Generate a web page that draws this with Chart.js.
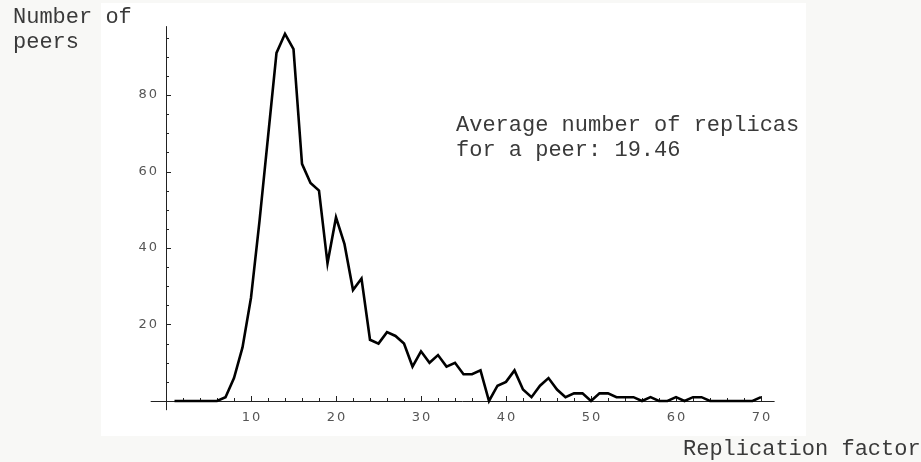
<!DOCTYPE html>
<html>
<head>
<meta charset="utf-8">
<script src="https://cdn.jsdelivr.net/npm/chart.js@4/dist/chart.umd.min.js"></script>
<style>
  html, body { margin: 0; padding: 0; background: #f8f8f6; }
  #c { display: block; }
</style>
</head>
<body>
<canvas id="c" width="921" height="462"></canvas>
<script>
// ---- data ----
const replicationFactor = [1,2,3,4,5,6,7,8,9,10,11,12,13,14,15,16,17,18,19,20,21,22,23,24,25,26,27,28,29,30,31,32,33,34,35,36,37,38,39,40,41,42,43,44,45,46,47,48,49,50,51,52,53,54,55,56,57,58,59,60,61,62,63,64,65,66,67,68,69,70];
const numberOfPeers =     [0,0,0,0,0,0,1,6,14,27,47,69,91,96,92,62,57,55,36,48,41,29,32,16,15,18,17,15,9,13,10,12,9,10,7,7,8,0,4,5,8,3,1,4,6,3,1,2,2,0,2,2,1,1,1,0,1,0,0,1,0,1,1,0,0,0,0,0,0,1];
const xTickLabels = [10,20,30,40,50,60,70];
const xMinorTicks = [2,4,6,8,12,14,16,18,22,24,26,28,32,34,36,38,42,44,46,48,52,54,56,58,62,64,66,68];
const yTickLabels = [20,40,60,80];
const yMinorTicks = [5,10,15,25,30,35,45,50,55,65,70,75,85,90,95];
const yAxisTitle = ["Number of", "peers"];
const xAxisTitle = "Replication factor";
const annotationLines = ["Average number of replicas", "for a peer: 19.46"];

const points = replicationFactor.map((x, i) => ({ x: x, y: numberOfPeers[i] }));

const mathematicaAxes = {
  id: 'mathematicaAxes',
  beforeDraw(chart) {
    const ctx = chart.ctx;
    ctx.save();
    ctx.fillStyle = '#f8f8f6';
    ctx.fillRect(0, 0, chart.width, chart.height);
    ctx.fillStyle = '#ffffff';
    ctx.fillRect(101, 3, 705, 433);
    ctx.restore();
  },
  beforeDatasetsDraw(chart) {
    const ctx = chart.ctx;
    const xs = chart.scales.x, ys = chart.scales.y;
    const x0 = xs.getPixelForValue(0), y0 = ys.getPixelForValue(0);
    ctx.save();
    ctx.strokeStyle = '#222';
    ctx.lineWidth = 1;
    // axis lines
    ctx.beginPath();
    ctx.moveTo(xs.left, Math.round(y0) + 0.5);
    ctx.lineTo(xs.right, Math.round(y0) + 0.5);
    ctx.moveTo(Math.round(x0) + 0.5, ys.top);
    ctx.lineTo(Math.round(x0) + 0.5, ys.bottom);
    ctx.stroke();
    // x ticks
    ctx.beginPath();
    xTickLabels.forEach(v => {
      const px = Math.round(xs.getPixelForValue(v)) + 0.5;
      ctx.moveTo(px, y0); ctx.lineTo(px, y0 - 5);
    });
    xMinorTicks.forEach(v => {
      const px = Math.round(xs.getPixelForValue(v)) + 0.5;
      ctx.moveTo(px, y0); ctx.lineTo(px, y0 - 3);
    });
    yTickLabels.forEach(v => {
      const py = Math.round(ys.getPixelForValue(v)) + 0.5;
      ctx.moveTo(x0, py); ctx.lineTo(x0 + 5, py);
    });
    yMinorTicks.forEach(v => {
      const py = Math.round(ys.getPixelForValue(v)) + 0.5;
      ctx.moveTo(x0, py); ctx.lineTo(x0 + 3, py);
    });
    ctx.stroke();
    // tick labels
    ctx.fillStyle = '#555';
    ctx.font = '13px "DejaVu Sans", sans-serif';
    try { ctx.letterSpacing = '2px'; } catch (e) {}
    ctx.textBaseline = 'top';
    ctx.textAlign = 'center';
    xTickLabels.forEach(v => {
      const px = xs.getPixelForValue(v);
      ctx.fillText(String(v), px + 1, y0 + 10);
    });
    ctx.textBaseline = 'middle';
    ctx.textAlign = 'right';
    yTickLabels.forEach(v => {
      const py = ys.getPixelForValue(v);
      ctx.fillText(String(v), x0 - 7, py);
    });
    ctx.restore();
  },
  afterDraw(chart) {
    const ctx = chart.ctx;
    ctx.save();
    ctx.fillStyle = '#3a3a3a';
    ctx.font = '22px "Liberation Mono", "Courier New", monospace';
    ctx.textBaseline = 'alphabetic';
    ctx.textAlign = 'left';
    ctx.fillText(yAxisTitle[0], 13, 23);
    ctx.fillText(yAxisTitle[1], 13, 48);
    ctx.fillText(xAxisTitle, 683, 455);
    ctx.fillText(annotationLines[0], 456, 131);
    ctx.fillText(annotationLines[1], 456, 156);
    ctx.restore();
  }
};

new Chart(document.getElementById('c'), {
  type: 'line',
  data: {
    datasets: [{
      data: points,
      borderColor: '#000',
      borderWidth: 2.6,
      pointRadius: 0,
      tension: 0,
      fill: false
    }]
  },
  options: {
    responsive: false,
    animation: false,
    devicePixelRatio: 1,
    layout: { padding: { left: 150.7, right: 146.4, top: 26.15, bottom: 51.82 } },
    plugins: { legend: { display: false }, tooltip: { enabled: false } },
    scales: {
      x: { type: 'linear', min: -1.8, max: 71.6, display: false },
      y: { type: 'linear', min: -2.4, max: 98.0, display: false }
    }
  },
  plugins: [mathematicaAxes]
});
</script>
</body>
</html>
